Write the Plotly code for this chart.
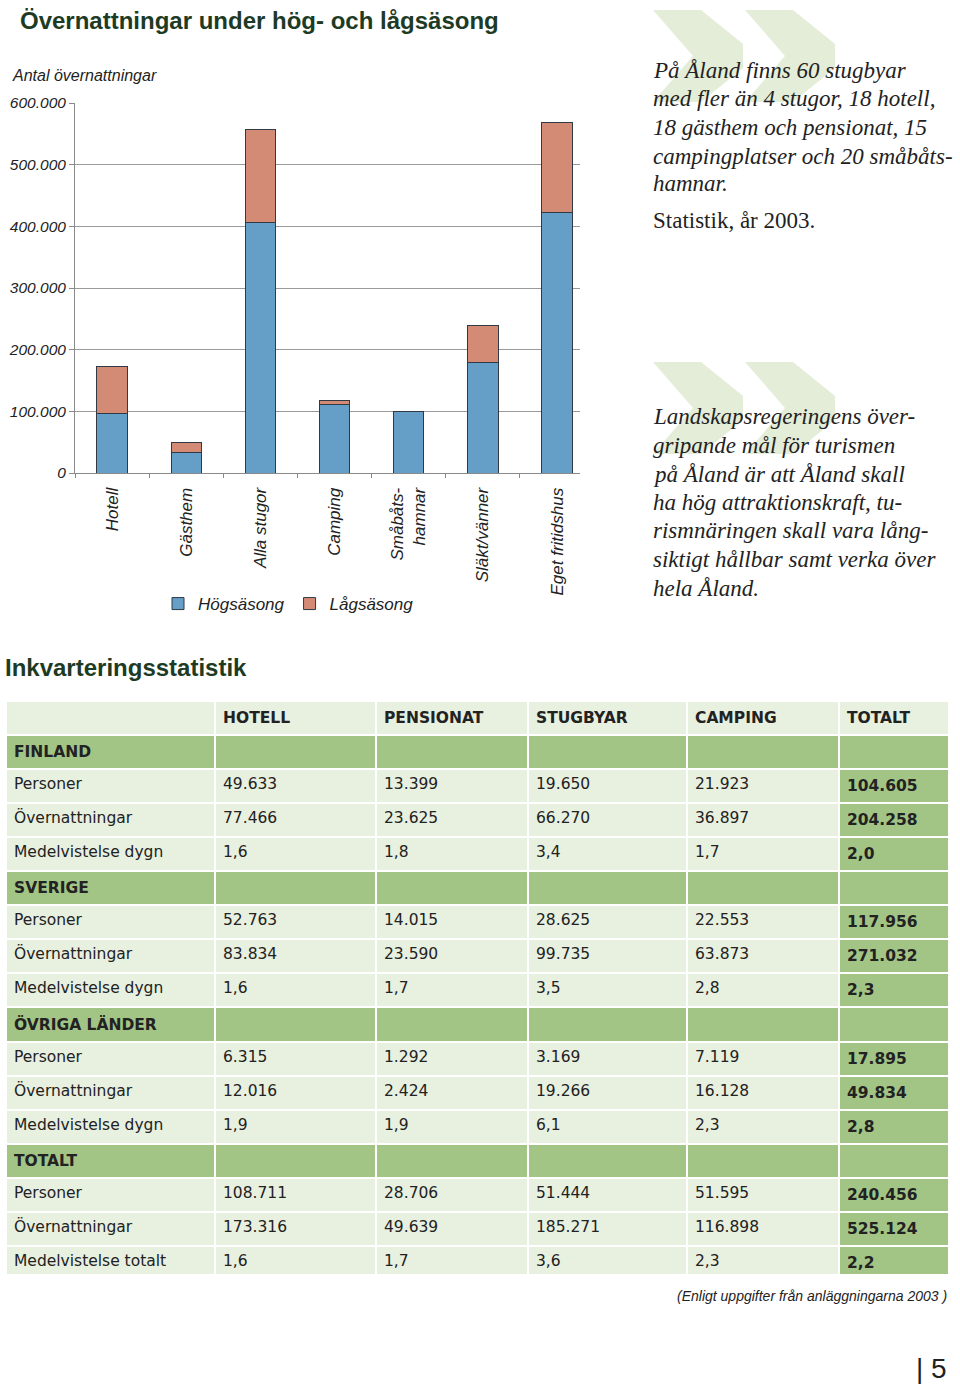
import plotly.graph_objects as go

W, H = 960, 1389

# ---------------- data ----------------
categories = ["Hotell", "Gästhem", "Alla stugor", "Camping", "Småbåts-<br>hamnar",
              "Släkt/vänner", "Eget fritidshus"]
hogsasong = [97000, 33000, 407000, 111000, 100000, 180000, 423000]
lagsasong = [76000, 17000, 150000, 6000, 0, 60000, 146000]
y_tickvals = [0, 100000, 200000, 300000, 400000, 500000, 600000]
y_ticktext = ["0", "100.000", "200.000", "300.000", "400.000", "500.000", "600.000"]

table_header = ["", "HOTELL", "PENSIONAT", "STUGBYAR", "CAMPING", "TOTALT"]
groups = ["FINLAND", "SVERIGE", "ÖVRIGA LÄNDER", "TOTALT"]
metrics = [["Personer", "Övernattningar", "Medelvistelse dygn"],
           ["Personer", "Övernattningar", "Medelvistelse dygn"],
           ["Personer", "Övernattningar", "Medelvistelse dygn"],
           ["Personer", "Övernattningar", "Medelvistelse totalt"]]
hotell = [["49.633", "77.466", "1,6"], ["52.763", "83.834", "1,6"],
          ["6.315", "12.016", "1,9"], ["108.711", "173.316", "1,6"]]
pensionat = [["13.399", "23.625", "1,8"], ["14.015", "23.590", "1,7"],
             ["1.292", "2.424", "1,9"], ["28.706", "49.639", "1,7"]]
stugbyar = [["19.650", "66.270", "3,4"], ["28.625", "99.735", "3,5"],
            ["3.169", "19.266", "6,1"], ["51.444", "185.271", "3,6"]]
camping = [["21.923", "36.897", "1,7"], ["22.553", "63.873", "2,8"],
           ["7.119", "16.128", "2,3"], ["51.595", "116.898", "2,3"]]
totalt = [["104.605", "204.258", "2,0"], ["117.956", "271.032", "2,3"],
          ["17.895", "49.834", "2,8"], ["240.456", "525.124", "2,2"]]

quote1 = ["På Åland finns 60 stugbyar", "med fler än 4 stugor, 18 hotell,",
          "18 gästhem och pensionat, 15", "campingplatser och 20 småbåts-", "hamnar."]
quote1_source = "Statistik, år 2003."
quote2 = ["Landskapsregeringens över-", "gripande mål för turismen",
          "på Åland är att Åland skall", "ha hög attraktionskraft, tu-",
          "rismnäringen skall vara lång-", "siktigt hållbar samt verka över", "hela Åland."]

# ---------------- helpers ----------------
def px(x):
    return x / W

def py(y):
    return 1 - y / H

BLUE = "#659fc8"
SALMON = "#d48b76"
LIGHT = "#e8f0e0"
GREEN = "#a2c586"
DARKGREEN = "#1d3b24"
TXT = "#222222"
SANS = "Liberation Sans"
SERIF = "Liberation Serif"
TABLEFONT = "DejaVu Sans"

fig = go.Figure()

fig.add_trace(go.Bar(x=categories, y=hogsasong, name="Högsäsong",
                     marker=dict(color=BLUE, line=dict(color="#2f3a44", width=1)),
                     width=0.41))
fig.add_trace(go.Bar(x=categories, y=lagsasong, name="Lågsäsong",
                     marker=dict(color=SALMON, line=dict(color="#2f3a44", width=1)),
                     width=0.41))

# ---------------- table ----------------
col_label, col_h, col_p, col_s, col_c, col_t = [], [], [], [], [], []
fill_normal, fill_total = [], []
for gi, g in enumerate(groups):
    col_label.append("<b>" + g + "</b>")
    for c in (col_h, col_p, col_s, col_c, col_t):
        c.append("")
    fill_normal.append(GREEN)
    fill_total.append(GREEN)
    for mi, m in enumerate(metrics[gi]):
        col_label.append(m)
        col_h.append(hotell[gi][mi])
        col_p.append(pensionat[gi][mi])
        col_s.append(stugbyar[gi][mi])
        col_c.append(camping[gi][mi])
        col_t.append("<b>" + totalt[gi][mi] + "</b>")
        fill_normal.append(LIGHT)
        fill_total.append(GREEN)

fig.add_trace(go.Table(
    domain=dict(x=[px(6), px(949)], y=[py(1275), py(701)]),
    columnwidth=[209, 161, 152, 159, 152, 110],
    header=dict(values=["<b>" + h + "</b>" if h else "" for h in table_header],
                fill_color=LIGHT, line=dict(color="white", width=2),
                align="left", height=33.5,
                font=dict(family=TABLEFONT, size=15.5, color=TXT)),
    cells=dict(values=[col_label, col_h, col_p, col_s, col_c, col_t],
               fill_color=[fill_normal, fill_normal, fill_normal, fill_normal,
                           fill_normal, fill_total],
               line=dict(color="white", width=2),
               align="left", height=33.5,
               font=dict(family=TABLEFONT, size=15.5, color=TXT)),
))

# ---------------- decorative chevrons ----------------
def chevron(x0, y0):
    pts = [(x0, y0), (x0 + 48, y0), (x0 + 90, y0 + 34), (x0 + 90, y0 + 58),
           (x0 + 48, y0 + 92), (x0, y0 + 92), (x0 + 40, y0 + 46)]
    path = "M " + " L ".join(f"{px(a):.5f},{py(b):.5f}" for a, b in pts) + " Z"
    return dict(type="path", xref="paper", yref="paper", path=path,
                fillcolor="#e4edd8", line=dict(width=0), layer="below")

shapes = [chevron(653, 10), chevron(745, 10), chevron(653, 362), chevron(745, 362)]

# ---------------- annotations ----------------
ann = []
ann.append(dict(text="<b>Övernattningar under hög- och lågsäsong</b>", x=px(18), y=py(21),
                xanchor="left", yanchor="middle",
                font=dict(family=SANS, size=24, color=DARKGREEN)))
ann.append(dict(text="Antal övernattningar", x=px(10), y=py(76), xanchor="left",
                yanchor="middle",
                font=dict(family=SANS, size=16, color=TXT, style="italic")))
for i, line in enumerate(quote1):
    ann.append(dict(text=line, x=px(651), y=py([70, 99, 127, 156, 184][i]),
                    xanchor="left", yanchor="middle", align="left",
                    font=dict(family=SERIF, size=23, color=TXT, style="italic")))
ann.append(dict(text=quote1_source, x=px(651), y=py(221), xanchor="left",
                yanchor="middle", align="left",
                font=dict(family=SERIF, size=23, color=TXT)))
for i, line in enumerate(quote2):
    ann.append(dict(text=line, x=px(651), y=py([416, 445, 474, 502, 531, 559, 588][i]),
                    xanchor="left", yanchor="middle", align="left",
                    font=dict(family=SERIF, size=23, color=TXT, style="italic")))
ann.append(dict(text="<b>Inkvarteringsstatistik</b>", x=px(3), y=py(667),
                xanchor="left", yanchor="middle",
                font=dict(family="Liberation Sans Narrow, Liberation Sans", size=24,
                          color=DARKGREEN)))
ann.append(dict(text="(Enligt uppgifter från anläggningarna 2003 )", x=px(949), y=py(1296),
                xanchor="right", yanchor="middle",
                font=dict(family=SANS, size=14, color=TXT, style="italic")))
ann.append(dict(text="| 5", x=px(949), y=py(1368), xanchor="right", yanchor="middle",
                font=dict(family=SANS, size=28, color=TXT)))
for a in ann:
    a.update(xref="paper", yref="paper", showarrow=False)

fig.update_layout(
    template="none",
    width=W, height=H, margin=dict(l=0, r=0, t=0, b=0, pad=0, autoexpand=False),
    paper_bgcolor="white", plot_bgcolor="white",
    barmode="stack", bargap=0.59,
    shapes=shapes, annotations=ann,
    showlegend=True,
    legend=dict(orientation="h", x=px(158), y=py(604), xanchor="left", yanchor="middle",
                font=dict(family=SANS, size=17, color=TXT, style="italic"),
                itemwidth=30, bgcolor="rgba(0,0,0,0)", traceorder="normal"),
    xaxis=dict(domain=[px(75), px(580)], range=[-0.5, 6.31], type="category",
               automargin=False,
               showline=True, linecolor="#8a8a8a", linewidth=1,
               ticks="outside", tickson="boundaries", ticklen=4, tickcolor="#8a8a8a",
               tickangle=-90, showgrid=False, ticklabelstandoff=7,
               tickfont=dict(family=SANS, size=17, color=TXT, style="italic")),
    yaxis=dict(domain=[py(473), py(103)], range=[0, 600000],
               automargin=False,
               tickvals=y_tickvals, ticktext=y_ticktext,
               showline=True, linecolor="#8a8a8a", linewidth=1,
               ticks="outside", ticklen=5, tickcolor="#8a8a8a",
               showgrid=True, gridcolor="#9a9a9a", gridwidth=1, zeroline=False,
               tickfont=dict(family=SANS, size=15.5, color=TXT, style="italic")),
)

fig.write_html("out.html",
               config={"displayModeBar": False},
               post_script="document.body.style.margin='0px';"
                           "document.body.style.overflow='hidden';")
